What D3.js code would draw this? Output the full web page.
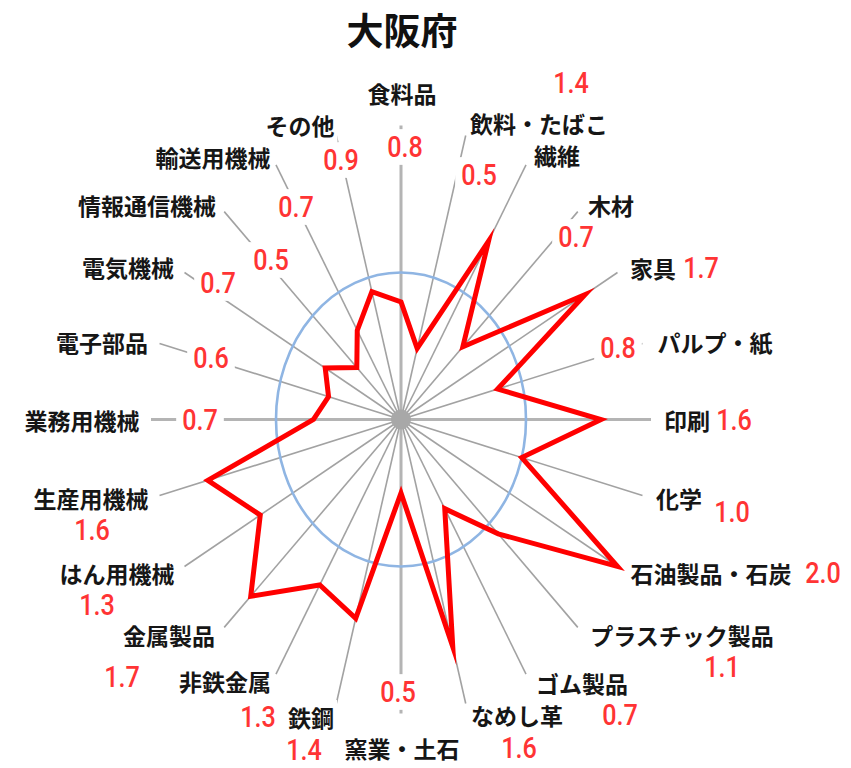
<!DOCTYPE html>
<html>
<head>
<meta charset="utf-8">
<script src="https://cdn.jsdelivr.net/npm/d3@7"></script>
<style>
  html, body { margin: 0; padding: 0; background: #fff; }
  svg { display: block; }
  .name { font-family: "Noto Sans CJK JP", "Noto Sans", sans-serif; font-weight: 700; font-size: 23px; fill: #161616; }
  .val { font-family: Roboto, "DejaVu Sans", sans-serif; font-weight: 500; font-size: 30px; fill: #ff3434; }
  .title { font-family: "Noto Sans CJK JP", sans-serif; font-weight: 700; font-size: 37px; fill: #111; }
</style>
</head>
<body>
<div id="chart"></div>
<script>
const CATEGORIES = ["食料品", "飲料・たばこ", "繊維", "木材", "家具", "パルプ・紙", "印刷", "化学",
  "石油製品・石炭", "プラスチック製品", "ゴム製品", "なめし革", "窯業・土石", "鉄鋼", "非鉄金属", "金属製品",
  "はん用機械", "生産用機械", "業務用機械", "電子部品", "電気機械", "情報通信機械", "輸送用機械", "その他"];
const VALUES = [0.8, 0.5, 1.4, 0.7, 1.7, 0.8, 1.6, 1.0, 2.0, 1.1, 0.7, 1.6,
  0.5, 1.4, 1.3, 1.7, 1.3, 1.6, 0.7, 0.6, 0.7, 0.5, 0.7, 0.9];
const RING = 1.0;
const R_MAX = 2.0;
const TITLE = "大阪府";

// label centres [name x, name y, value x, value y] (hand placed like the original)
const LABEL_AT = [
  [402, 93, 405, 147], [539, 123, 479, 175], [557, 155, 571, 83], [611, 205, 576, 237],
  [653, 268, 701, 268], [715, 342, 618, 348], [687, 420, 734, 420], [679, 498, 732, 512],
  [711, 573, 823, 573], [682, 635, 722, 667], [582, 683, 620, 715], [517, 715, 519, 748],
  [402, 748, 398, 692], [311, 717, 304, 750], [225, 681, 258, 717], [169, 635, 122, 677],
  [117, 573, 97, 605], [91, 498, 92, 530], [82, 420, 200, 420], [102, 342, 211, 358],
  [128, 267, 218, 283], [147, 205, 271, 260], [213, 157, 296, 207], [300, 125, 341, 160]
];

const width = 851, height = 768;
const cx = 401, cy = 419.5;

const svg = d3.select("#chart").append("svg")
  .attr("width", width).attr("height", height);

const rx = d3.scaleLinear().domain([0, R_MAX]).range([0, 250]);
const ry = d3.scaleLinear().domain([0, R_MAX]).range([0, 294]);
const angle = d3.scaleLinear().domain([0, CATEGORIES.length]).range([0, 2 * Math.PI]);

const px = (v, i) => cx + rx(v) * Math.sin(angle(i));
const py = (v, i) => cy - ry(v) * Math.cos(angle(i));

// spokes
svg.append("g").selectAll("line")
  .data(CATEGORIES)
  .join("line")
  .attr("x1", cx).attr("y1", cy)
  .attr("x2", (d, i) => px(R_MAX, i))
  .attr("y2", (d, i) => py(R_MAX, i))
  .attr("stroke", (d, i) => i % 6 === 0 ? "#b4b4b4" : "#a2a2a2")
  .attr("stroke-width", (d, i) => i % 6 === 0 ? 3 : 1.6);

svg.append("circle")
  .attr("cx", cx).attr("cy", cy).attr("r", 10)
  .attr("fill", "#a8a8a8");

// 1.0 ring
svg.append("ellipse")
  .attr("cx", cx).attr("cy", cy)
  .attr("rx", rx(RING)).attr("ry", ry(RING))
  .attr("fill", "none")
  .attr("stroke", "#8fb5e3")
  .attr("stroke-width", 2.6);

const line = d3.line()
  .x((d, i) => px(d, i))
  .y((d, i) => py(d, i))
  .curve(d3.curveLinearClosed);

svg.append("path")
  .datum(VALUES)
  .attr("d", line)
  .attr("fill", "none")
  .attr("stroke", "#ff0000")
  .attr("stroke-width", 5)
  .attr("stroke-linejoin", "miter")
  .attr("stroke-miterlimit", 10);

// labels; white boxes behind them hide the spoke ends
const boxes = svg.append("g");
const texts = svg.append("g");

function boxedText(x, y, text, cls, padX, padY, sx) {
  const tf = `translate(${x},${y}) scale(${sx},1)`;
  const t = texts.append("text")
    .attr("class", cls)
    .attr("transform", tf)
    .attr("text-anchor", "middle")
    .attr("dominant-baseline", "central")
    .text(text);
  const b = t.node().getBBox();
  boxes.append("rect")
    .attr("transform", tf)
    .attr("x", b.x - padX / sx).attr("y", b.y - padY)
    .attr("width", b.width + 2 * padX / sx).attr("height", b.height + 2 * padY)
    .attr("fill", "#fff");
}

CATEGORIES.forEach((name, i) => {
  const [nx, ny, vx, vy] = LABEL_AT[i];
  boxedText(nx, ny, name, "name", 3, 0, 1);
  boxedText(vx, vy, VALUES[i].toFixed(1), "val", 6, 0, 0.84);
});

svg.append("text")
  .attr("class", "title")
  .attr("x", 402).attr("y", 29)
  .attr("text-anchor", "middle")
  .attr("dominant-baseline", "central")
  .text(TITLE);
</script>
</body>
</html>
